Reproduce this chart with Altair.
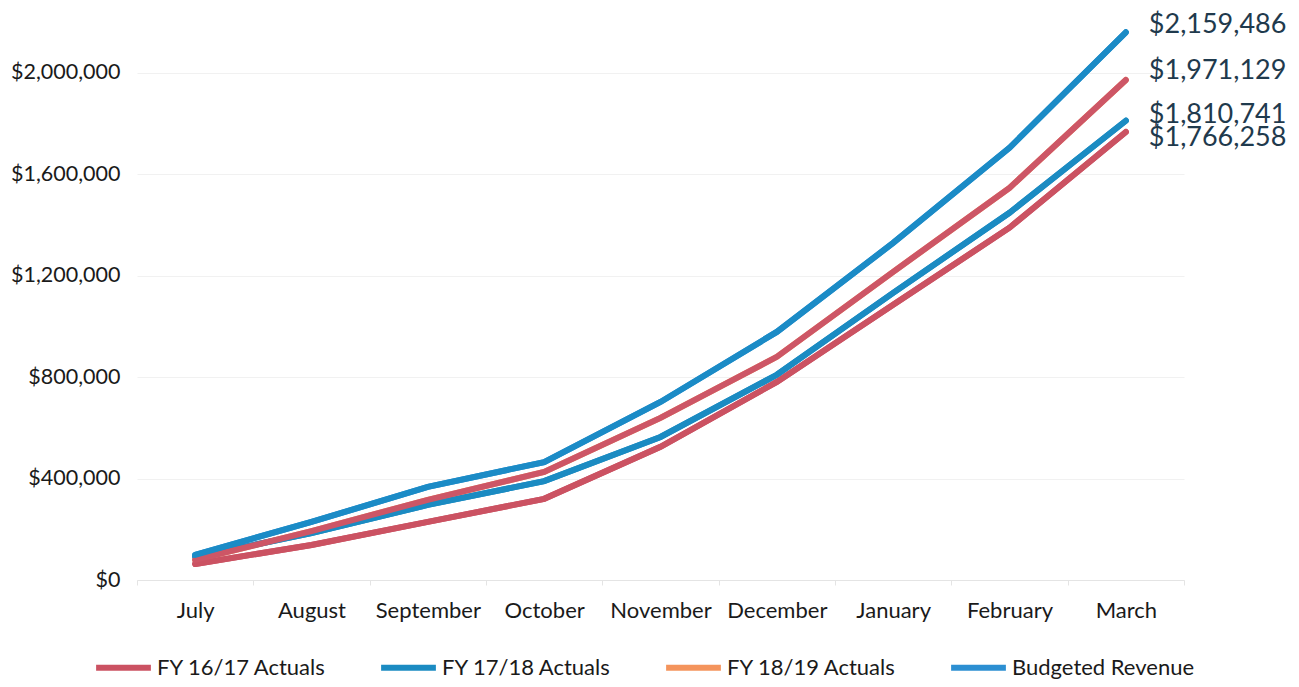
import altair as alt
import pandas as pd

months = ["July", "August", "September", "October", "November", "December", "January", "February", "March"]
series_names = ["FY 16/17 Actuals", "FY 17/18 Actuals", "FY 18/19 Actuals", "Budgeted Revenue"]
fy1617 = [63000, 138000, 229000, 320000, 525000, 781000, 1085000, 1389000, 1766258]
fy1718 = [91000, 185000, 296000, 390000, 564000, 809000, 1132000, 1448000, 1810741]
fy1819 = [79000, 193000, 316000, 426000, 639000, 880000, 1215000, 1546000, 1971129]
budget = [99000, 229000, 367000, 465000, 702000, 978000, 1329000, 1704000, 2159486]
end_labels = ["$1,766,258", "$1,810,741", "$1,971,129", "$2,159,486"]

legend_colors = ["#CB5262", "#1B8BC2", "#F4945C", "#2C8FD2"]
line_colors = ["#CB5262", "#1B8BC2", "#CD5666", "#1B8BC6"]

rows = []
for name, vals in zip(series_names, [fy1617, fy1718, fy1819, budget]):
    for m, v in zip(months, vals):
        rows.append({"month": m, "series": name, "value": v})
df = pd.DataFrame(rows)

FONT = "Lato"

x_enc = alt.X(
    "month:N",
    sort=months,
    scale=alt.Scale(type="band", paddingInner=0, paddingOuter=0),
    bandPosition=0.5,
    axis=alt.Axis(
        title=None, labelAngle=0, tickBand="extent", labelFontSize=22, labelFont=FONT,
        labelColor="#1a1a1a", domainColor="#e4e4e4", tickColor="#e4e4e4", tickSize=5,
        labelPadding=15, grid=False,
    ),
)
y_enc = alt.Y(
    "value:Q",
    scale=alt.Scale(domain=[0, 2200000], nice=False),
    axis=alt.Axis(
        title=None, values=[0, 400000, 800000, 1200000, 1600000, 2000000], format="$,.0f",
        labelFontSize=21.5, labelFont=FONT, labelColor="#1a1a1a", ticks=False, domain=False,
        labelPadding=17, gridColor="#f1f1f1", gridWidth=1,
    ),
)

legend_layer = alt.Chart(df).mark_line(strokeWidth=6, strokeCap="round").encode(
    x=x_enc,
    y=y_enc,
    color=alt.Color(
        "series:N",
        scale=alt.Scale(domain=series_names, range=legend_colors),
        sort=series_names,
        legend=alt.Legend(
            title=None, orient="none", direction="horizontal", columns=4,
            legendX=-44, legendY=615, symbolType="stroke", symbolSize=3000,
            symbolStrokeWidth=6, labelFontSize=22, labelFont=FONT, labelColor="#1a1a1a",
            columnPadding=42, labelOffset=3, labelLimit=400,
        ),
    ),
)

visible_layer = alt.Chart(df).mark_line(strokeWidth=6, strokeCap="round").encode(
    x=x_enc,
    y=y_enc,
    color=alt.Color(
        "series:N",
        scale=alt.Scale(domain=series_names, range=line_colors),
        legend=None,
    ),
)

end_df = pd.DataFrame({
    "month": ["March"] * 4,
    "value": [fy1617[-1], fy1718[-1], fy1819[-1], budget[-1]],
    "label": end_labels,
})
dys = [6, -6, -9, -7]
text_layers = []
for lab, dy in zip(end_labels, dys):
    text_layers.append(
        alt.Chart(end_df).transform_filter(alt.datum.label == lab).mark_text(
            align="left", baseline="middle", dx=23, dy=dy, fontSize=27, font=FONT, color="#1F3A4D"
        ).encode(x=x_enc, y=y_enc, text="label:N")
    )

chart = alt.layer(legend_layer, visible_layer, *text_layers).resolve_scale(color="independent").properties(
    width=1047,
    height=558,
    autosize=alt.AutoSizeParams(type="none"),
    padding={"left": 129, "top": 14, "right": 107, "bottom": 99},
).configure_view(stroke=None)

chart.save("out.html", embed_options={"renderer": "svg", "actions": False})
